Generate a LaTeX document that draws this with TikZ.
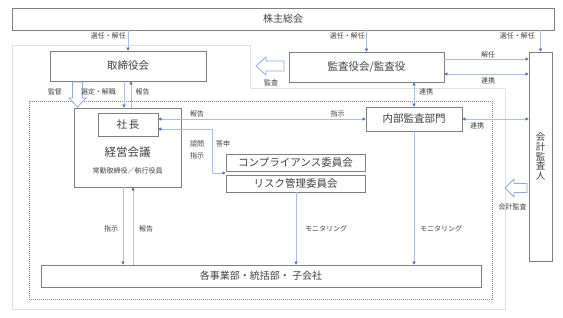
\documentclass[tikz,border=0pt]{standalone}
\usepackage{fontspec}
\setmainfont{Noto Sans CJK JP}
\usetikzlibrary{arrows.meta}
\definecolor{boxc}{RGB}{127,127,127}
\definecolor{linec}{RGB}{170,192,232}
\definecolor{ahead}{RGB}{68,114,196}
\definecolor{hollowc}{RGB}{143,170,220}
\definecolor{framec}{RGB}{226,226,226}
\definecolor{dotc}{RGB}{135,135,135}
\definecolor{txtc}{RGB}{64,64,64}
\begin{document}
\begin{tikzpicture}[x=1pt,y=-1pt,
  box/.style={draw=boxc,line width=0.8pt,fill=white,inner sep=0pt,text=txtc,font=\fontsize{10.5}{12}\selectfont},
  conn/.style={draw=linec,line width=0.8pt},
  lbl/.style={inner sep=0pt,text=txtc,font=\fontsize{7}{8}\selectfont},
  hollow/.style={draw=hollowc,line width=0.8pt,fill=white,line join=miter},
  >={Triangle[length=3pt,width=3.2pt,color=ahead]}]
\useasboundingbox (0,0) rectangle (563,317);
\fill[white] (0,0) rectangle (563,317);

% frames
\draw[framec,line width=0.8pt] (12,45) -- (250,45) -- (250,88) -- (505,88) -- (505,309) -- (12,309) -- cycle;
\draw[dotc,line width=0.7pt,dash pattern=on 1pt off 1pt] (29,101) rectangle (492,299);

% boxes
\node[box,minimum width=542pt,minimum height=22pt,font=\fontsize{10}{12}\selectfont] (sh) at (283,19) {株主総会};
\node[box,minimum width=156pt,minimum height=30pt] (tb) at (128,66) {取締役会};
\node[box,minimum width=155pt,minimum height=30pt] (ka) at (366.5,67) {監査役会/監査役};
\node[box,minimum width=23pt,minimum height=209pt,align=center,font=\fontsize{9.5}{9.8}\selectfont] (ai) at (540.5,156.5) {会\\計\\監\\査\\人};
\node[box,minimum width=96pt,minimum height=24pt] (nb) at (414,119) {内部監査部門};
\node[box,minimum width=107pt,minimum height=79pt] (kk) at (127.5,147.5) {};
\node[inner sep=0pt,text=txtc,font=\fontsize{11.5}{13}\selectfont] (kkt) at (127.5,152.5) {経営会議};
\node[lbl] (kks) at (127.5,171) {常勤取締役／執行役員};
\node[box,minimum width=60pt,minimum height=23pt] (sc) at (128,124.5) {社\hspace{2pt}長};
\node[box,minimum width=139pt,minimum height=17pt] (cp) at (295.5,162.5) {コンプライアンス委員会};
\node[box,minimum width=139pt,minimum height=17pt] (rk) at (295.5,183.5) {リスク管理委員会};
\node[box,minimum width=440pt,minimum height=22pt,font=\fontsize{10}{12}\selectfont] (jg) at (261,276) {各事業部・統括部・ 子会社};

% helper coordinates
\coordinate (x123) at (123,0);
\coordinate (x124) at (124,0);
\coordinate (x131) at (131,0);
\coordinate (x133) at (133,0);
\coordinate (x212) at (212,0);
\coordinate (x296) at (296,0);
\coordinate (x414) at (414,0);
\coordinate (y59) at (0,59);
\coordinate (y74) at (0,74);
\coordinate (y119) at (0,119);
\coordinate (y129) at (0,129);
\coordinate (y173) at (0,173);

% connectors
\draw[conn,->] (tb.north |- sh.south) -- (tb.north);
\draw[conn,->] (ka.north |- sh.south) -- (ka.north);
\draw[conn,->] (ai.north |- sh.south) -- (ai.north);
\draw[conn,->] (ka.east |- y59) -- (ai.west |- y59);
\draw[conn,<->] (ka.east |- y74) -- (ai.west |- y74);
\draw[conn,<->] (x414 |- ka.south) -- (x414 |- nb.north);
\draw[conn,<->] (sc.east |- y119) -- (nb.west |- y119);
\draw[conn,<->] (nb.east |- y119) -- (ai.west |- y119);
\draw[conn,<->] (sc.east |- y129) -- (x212 |- y129) -- (x212 |- y173) -- (cp.west |- y173);
\draw[conn,->] (x124 |- tb.south) -- (x124 |- kk.north);
\draw[conn,<-] (x131 |- tb.south) -- (x131 |- kk.north);
\draw[conn,->] (x123 |- kk.south) -- (x123 |- jg.north);
\draw[conn,<-] (x133 |- kk.south) -- (x133 |- jg.north);
\draw[conn,->] (x296 |- rk.south) -- (x296 |- jg.north);
\draw[conn,->] (x414 |- nb.south) -- (x414 |- jg.north);

% hollow arrows
\draw[hollow] (256,66) -- (266,57) -- (266,61) -- (284,61) -- (284,71) -- (266,71) -- (266,75) -- cycle;
\draw[hollow] (72.5,82) -- (82.5,82) -- (82.5,98) -- (86,98) -- (77.5,107) -- (69,98) -- (72.5,98) -- cycle;
\draw[hollow] (505,188) -- (514,179) -- (514,183.5) -- (527,183.5) -- (527,192.5) -- (514,192.5) -- (514,197) -- cycle;

% labels
\node[lbl,anchor=east] (l1) at (126,36) {選任・解任};
\node[lbl,anchor=east] (l2) at (365,36) {選任・解任};
\node[lbl,anchor=east] (l3) at (535,36) {選任・解任};
\node[lbl] (l4) at (488,55) {解任};
\node[lbl] (l5) at (488,81) {連携};
\node[lbl,anchor=west] (l6) at (419,92) {連携};
\node[lbl] (l7) at (197,114) {報告};
\node[lbl] (l8) at (337.5,114) {指示};
\node[lbl] (l9) at (477,126) {連携};
\node[lbl] (l10) at (197,144) {諮問};
\node[lbl] (l11) at (197,156) {指示};
\node[lbl] (l12) at (223,144) {答申};
\node[lbl] (l13) at (55,92) {監督};
\node[lbl] (l14) at (98.5,92) {選定・解職};
\node[lbl] (l15) at (142.5,92) {報告};
\node[lbl] (l16) at (271,83) {監査};
\node[lbl] (l17) at (111,229) {指示};
\node[lbl] (l18) at (146,229) {報告};
\node[lbl,anchor=west] (l19) at (305,229) {モニタリング};
\node[lbl,anchor=west] (l20) at (420,229) {モニタリング};
\node[lbl] (l21) at (512.5,207) {会計監査};
\end{tikzpicture}
\end{document}
